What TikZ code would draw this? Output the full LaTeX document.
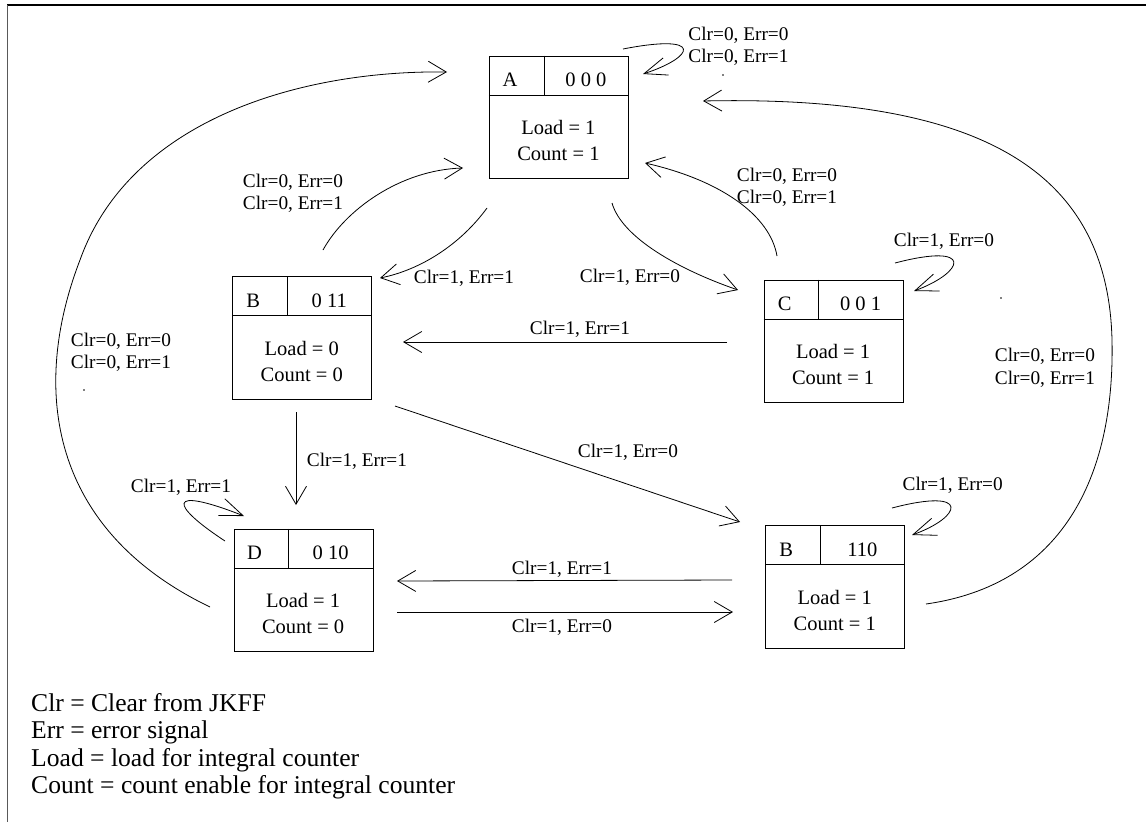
\documentclass[tikz,border=0pt]{standalone}
\usepackage{fontspec}
\setmainfont{Liberation Serif}
\usetikzlibrary{arrows.meta,calc}

\tikzset{
  conn/.style={line width=0.8pt, -{Straight Barb[length=18pt,width=21pt]}},
  loopconn/.style={line width=0.8pt, -{Straight Barb[length=23pt,width=18pt]}},
  statebox/.style={draw, line width=0.8pt, minimum width=139pt, minimum height=122.5pt, inner sep=0pt},
  boxtxt/.style={font=\fontsize{20.5}{26}\selectfont, inner sep=0pt, align=center},
  lbl/.style={font=\fontsize{19.3}{22.5}\selectfont, inner sep=0pt, align=center},
  legend/.style={font=\fontsize{25.6}{27.3}\selectfont, inner sep=0pt, anchor=base west},
}

% state box: name, left, top, letter, code, load, count
\newcommand\statenode[7]{%
  \node[statebox] (#1) at ({#2+69.5},{#3+61.25}) {};
  \draw[line width=0.8pt] ([yshift=-39.5pt]#1.north west) -- ([yshift=-39.5pt]#1.north east);
  \draw[line width=0.8pt] ([xshift=55pt]#1.north west) -- ([xshift=55pt,yshift=-39.5pt]#1.north west);
  \node[boxtxt] (#1-id) at ([xshift=21pt,yshift=-24.3pt]#1.north west) {#4};
  \node[boxtxt] (#1-code) at ([xshift=97pt,yshift=-24.3pt]#1.north west) {#5};
  \node[boxtxt] (#1-out) at ([xshift=69.5pt,yshift=-85pt]#1.north west) {Load = #6\\Count = #7};
}

\begin{document}
\begin{tikzpicture}[x=1pt,y=-1pt]
\useasboundingbox (0,0) rectangle (1146,822);

% frame
\draw[line width=1.5pt] (7,5) -- (1146,5);
\draw[line width=1.5pt, black!65] (7.5,5) -- (7.5,822);

% states
\statenode{A}{489.3}{56}{A}{0 0 0}{1}{1}
\statenode{B}{232.7}{276.5}{B}{0 11}{0}{0}
\statenode{C}{764}{280}{C}{0 0 1}{1}{1}
\statenode{D}{234}{529.2}{D}{0 10}{1}{0}
\statenode{E}{765.7}{525.7}{B}{110}{1}{1}

% end points of the transitions
\coordinate (aLs) at (623,49);   \coordinate (aLe) at (643,74);
\coordinate (cLs) at (895,263);  \coordinate (cLe) at (914,291);
\coordinate (eLs) at (892,508);  \coordinate (eLe) at (912,535);
\coordinate (dLs) at (225,541);  \coordinate (dLe) at (244,516);
\coordinate (dAs) at (210,607);  \coordinate (dAe) at (447,72);
\coordinate (eAs) at (926,604);  \coordinate (eAe) at (703,101);
\coordinate (bAs) at (323,250);  \coordinate (bAe) at (463,168);
\coordinate (aBs) at (487,208);  \coordinate (aBe) at (380,278);
\coordinate (aCs) at (612,203);  \coordinate (aCe) at (738,290);
\coordinate (cAs) at (777,256);  \coordinate (cAe) at (645,163);
\coordinate (cBs) at (727,342);  \coordinate (cBe) at (403,342);
\coordinate (bDs) at (296,412);  \coordinate (bDe) at (296,505);
\coordinate (bEs) at (395,406);  \coordinate (bEe) at (740,522);
\coordinate (eDs) at (732,580);  \coordinate (eDe) at (397,581);
\coordinate (dEs) at (397,612);  \coordinate (dEe) at (733,612);

% self loops
\draw[loopconn] (aLs) .. controls (705,33) and (695,57) .. (aLe);
\draw[loopconn] (cLs) .. controls (975,242) and (965,272) .. (cLe);
\draw[loopconn] (eLs) .. controls (972,487) and (962,517) .. (eLe);
\draw[loopconn] (dLs) .. controls (170,505) and (165,485) .. (dLe);

% long returns to A
\draw[conn] (dAs) .. controls (50,530) and (30,390) .. (80,260)
                  .. controls (130,120) and (300,70) .. (dAe);
\draw[conn] (eAs) .. controls (1060,585) and (1115,480) .. (1112,340)
                  .. controls (1108,170) and (980,95) .. (eAe);

% transitions between A, B and C
\draw[conn] (bAs) .. controls (345,210) and (400,170) .. (bAe);
\draw[conn] (aBs) .. controls (460,245) and (420,270) .. (aBe);
\draw[conn] (aCs) .. controls (622,238) and (680,270) .. (aCe);
\draw[conn] (cAs) .. controls (770,215) and (720,180) .. (cAe);
\draw[conn] (cBs) -- (cBe);

% transitions towards D and the lower B
\draw[conn] (bDs) -- (bDe);
\draw[conn] (bEs) -- (bEe);
\draw[conn] (eDs) -- (eDe);
\draw[conn] (dEs) -- (dEe);

% transition labels
\node[lbl] (tAL) at (738.5,46.5) {Clr=0, Err=0\\Clr=0, Err=1};
\node[lbl] (tBA) at (293,193.5) {Clr=0, Err=0\\Clr=0, Err=1};
\node[lbl] (tCA) at (787,187.5) {Clr=0, Err=0\\Clr=0, Err=1};
\node[lbl] (tDA) at (121,352.5) {Clr=0, Err=0\\Clr=0, Err=1};
\node[lbl] (tEA) at (1045,368) {Clr=0, Err=0\\Clr=0, Err=1};
\node[lbl] (tAB) at (464,278) {Clr=1, Err=1};
\node[lbl] (tAC) at (630,277) {Clr=1, Err=0};
\node[lbl] (tCL) at (944,241) {Clr=1, Err=0};
\node[lbl] (tCB) at (580,329) {Clr=1, Err=1};
\node[lbl] (tBD) at (357,461) {Clr=1, Err=1};
\node[lbl] (tDL) at (181,487) {Clr=1, Err=1};
\node[lbl] (tBE) at (628,452) {Clr=1, Err=0};
\node[lbl] (tEL) at (952.7,485) {Clr=1, Err=0};
\node[lbl] (tED) at (562,569) {Clr=1, Err=1};
\node[lbl] (tDE) at (562,627) {Clr=1, Err=0};

% small specks
\fill (723,75) circle (0.8pt);
\fill (1001,298) circle (0.8pt);
\fill (84,390) circle (0.8pt);

% legend
\node[legend] (k1) at (31,711.5) {Clr = Clear from JKFF};
\node[legend] (k2) at (31,738.8) {Err = error signal};
\node[legend] (k3) at (31,766.1) {Load = load for integral counter};
\node[legend] (k4) at (31,793.4) {Count = count enable for integral counter};
\end{tikzpicture}
\end{document}
